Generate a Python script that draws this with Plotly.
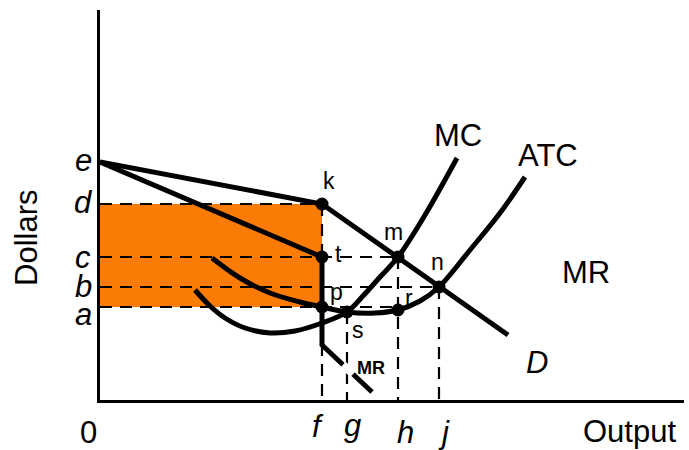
import numpy as np
import plotly.graph_objects as go

# Price levels marked on the vertical axis
price_labels = ["a", "b", "c", "d", "e"]
price_levels = [93, 113, 143, 196, 238]

# Output levels marked on the horizontal axis
qty_labels = ["f", "g", "h", "j"]
qty_levels = [222, 247, 298, 339]

# Kinked demand curve D (kink at k)
demand_x = [0, 222, 408]
demand_y = [238, 196, 65]

# Marginal revenue: upper branch, vertical gap at f, lower branch
mr_upper_x = [0, 222]
mr_upper_y = [238, 143]
mr_lower_x = [222, 222, 272]
mr_lower_y = [143, 55, 8]

# Marginal cost curve
mc_x = [95, 110, 125, 145, 170, 195, 222, 247, 262, 280, 298, 325, 357]
mc_y = [110, 94, 82, 72, 67, 69, 77, 88, 103, 123, 143, 185, 242]

# Average total cost curve
atc_x = [112, 140, 170, 200, 222, 247, 275, 298, 320, 339, 370, 400, 425]
atc_y = [142, 122, 107, 98, 93, 88, 87, 90, 99, 113, 150, 187, 223]

# Labelled points
pt_names = ["k", "t", "p", "s", "m", "r", "n"]
pt_x = [222, 222, 222, 247, 298, 298, 339]
pt_y = [196, 143, 93, 88, 143, 90, 113]

FONT = "Liberation Sans, Arial, sans-serif"
ORANGE = "#FA7C06"
BLACK = "#000000"
X_MAX, Y_MAX = 584, 390
BIG = 31

P = dict(zip(pt_names, zip(pt_x, pt_y)))
price = dict(zip(price_labels, price_levels))
qty = dict(zip(qty_labels, qty_levels))

fig = go.Figure()

# Profit rectangle between a and d up to output f
fig.add_trace(go.Scatter(
    x=[0, qty["f"], qty["f"], 0, 0],
    y=[price["a"], price["a"], price["d"], price["d"], price["a"]],
    fill="toself", fillcolor=ORANGE, mode="lines",
    line=dict(width=0, color=ORANGE), hoverinfo="skip", showlegend=False))

dash = dict(color=BLACK, width=2.2, dash="12px,8px")

# Horizontal guide lines from the price axis
for lvl, end in [("d", "k"), ("c", "m"), ("b", "n"), ("a", "r")]:
    fig.add_trace(go.Scatter(x=[0, P[end][0]], y=[price[lvl], price[lvl]],
                             mode="lines", line=dash, hoverinfo="skip",
                             showlegend=False))

# Vertical guide lines down to the output axis
for lvl, top in [("f", "k"), ("g", "s"), ("h", "m"), ("j", "n")]:
    fig.add_trace(go.Scatter(x=[qty[lvl], qty[lvl]], y=[P[top][1], 0],
                             mode="lines", line=dash, hoverinfo="skip",
                             showlegend=False))

curve = dict(color=BLACK, width=5)

fig.add_trace(go.Scatter(x=atc_x, y=atc_y, mode="lines",
                         line=dict(curve, shape="spline", smoothing=1.0),
                         hoverinfo="skip", showlegend=False))
fig.add_trace(go.Scatter(x=mc_x, y=mc_y, mode="lines",
                         line=dict(curve, shape="spline", smoothing=1.0),
                         hoverinfo="skip", showlegend=False))
fig.add_trace(go.Scatter(x=demand_x, y=demand_y, mode="lines", line=curve,
                         hoverinfo="skip", showlegend=False))
fig.add_trace(go.Scatter(x=mr_upper_x, y=mr_upper_y, mode="lines", line=curve,
                         hoverinfo="skip", showlegend=False))
fig.add_trace(go.Scatter(x=mr_lower_x, y=mr_lower_y, mode="lines", line=curve,
                         hoverinfo="skip", showlegend=False))

# Break in the lower MR branch where its small label sits
seg = np.linspace(0.42, 0.62, 2)
gap_x = mr_lower_x[1] + seg * (mr_lower_x[2] - mr_lower_x[1])
gap_y = mr_lower_y[1] + seg * (mr_lower_y[2] - mr_lower_y[1])
fig.add_trace(go.Scatter(x=gap_x, y=gap_y, mode="lines",
                         line=dict(color="white", width=8),
                         hoverinfo="skip", showlegend=False))

# Points
fig.add_trace(go.Scatter(x=pt_x, y=pt_y, mode="markers",
                         marker=dict(size=13, color=BLACK),
                         hoverinfo="skip", showlegend=False))

ann = []
def label(x, y, text, size, italic=False, bold=False, **kw):
    """Centre text at plot units (x, y); paper refs let it sit outside the axes."""
    t = text
    if italic:
        t = "<i>" + t + "</i>"
    if bold:
        t = "<b>" + t + "</b>"
    ann.append(dict(x=x / X_MAX, y=y / Y_MAX, xref="paper", yref="paper",
                    xanchor="center", yanchor="middle",
                    text=t, showarrow=False,
                    font=dict(family=FONT, size=size, color=BLACK), **kw))

# Axis tick letters
price_shift = {"a": -7, "b": 0, "c": 0, "d": 2, "e": 1}
for name, lvl in zip(price_labels, price_levels):
    label(-17, lvl + price_shift[name], name, BIG, italic=True)
qty_shift = {"f": (-4, -26), "g": (5, -25), "h": (7, -33), "j": (5, -33)}
for name, lvl in zip(qty_labels, qty_levels):
    dx, y = qty_shift[name]
    label(lvl + dx, y, name, BIG, italic=True)

# Point letters
pt_offset = {"k": (7, 23), "t": (16, 3), "p": (14, 15), "s": (11, -18),
             "m": (-5, 25), "r": (11, 12), "n": (-2, 25)}
for name, x, y in zip(pt_names, pt_x, pt_y):
    dx, dy = pt_offset[name]
    label(x + dx, y + dy, name, 23)

# Curve names
label(358, 265, "MC", BIG)
label(448, 245, "ATC", BIG)
label(486, 128, "MR", BIG)
label(437, 38, "D", BIG, italic=True)
label(271, 32, "MR", 18, bold=True)

# Axis titles and origin
label(-12, -32, "0", BIG)
label(529, -31, "Output", BIG)
label(-73, 162, "Dollars", BIG, textangle=-90)

fig.update_layout(
    width=689, height=450,
    margin=dict(l=100, r=5, t=10, b=50),
    paper_bgcolor="white", plot_bgcolor="white",
    annotations=ann,
    xaxis=dict(range=[0, X_MAX], showgrid=False, zeroline=False,
               showticklabels=False, ticks="", showline=True,
               linecolor=BLACK, linewidth=2.5, fixedrange=True),
    yaxis=dict(range=[0, Y_MAX], showgrid=False, zeroline=False,
               showticklabels=False, ticks="", showline=True,
               linecolor=BLACK, linewidth=3, fixedrange=True),
)

fig.write_html("out.html")
